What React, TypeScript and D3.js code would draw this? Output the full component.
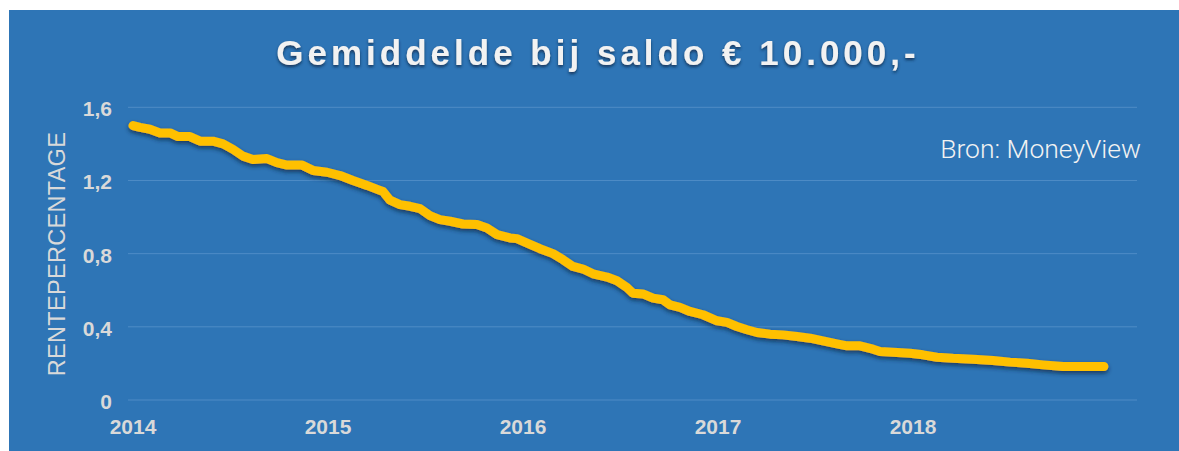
import React from "react";
import * as d3 from "d3";

const title = "Gemiddelde bij saldo € 10.000,-";
const yAxisTitle = "RENTEPERCENTAGE";
const sourceNote = "Bron: MoneyView";

const yTicks = [0, 0.4, 0.8, 1.2, 1.6];
const yTickLabels = ["0", "0,4", "0,8", "1,2", "1,6"];
const xTicks = [2014, 2015, 2016, 2017, 2018];
const xTickLabels = ["2014", "2015", "2016", "2017", "2018"];

// decimal year of each observation
const times = [
  2014.0, 2014.036, 2014.087, 2014.138, 2014.19, 2014.231, 2014.292, 2014.344, 2014.41, 2014.462,
  2014.513, 2014.564, 2014.615, 2014.687, 2014.738, 2014.79, 2014.867, 2014.923, 2014.995,
  2015.062, 2015.128, 2015.2, 2015.256, 2015.282, 2015.318, 2015.369, 2015.421, 2015.472, 2015.523,
  2015.574, 2015.626, 2015.692, 2015.764, 2015.815, 2015.867, 2015.933, 2015.969,
  2016.021, 2016.087, 2016.154, 2016.205, 2016.256, 2016.308, 2016.359, 2016.431, 2016.482, 2016.533,
  2016.564, 2016.615, 2016.667, 2016.718, 2016.754, 2016.805, 2016.856, 2016.923, 2016.995,
  2017.046, 2017.097, 2017.149, 2017.2, 2017.267, 2017.333, 2017.405, 2017.472, 2017.538, 2017.61,
  2017.662, 2017.728, 2017.795, 2017.831, 2017.897, 2017.985,
  2018.051, 2018.123, 2018.205, 2018.308, 2018.41, 2018.497, 2018.585, 2018.667, 2018.769, 2018.872, 2018.979,
];

// average interest rate (%)
const rates = [
  1.5, 1.49, 1.48, 1.46, 1.46, 1.44, 1.44, 1.415, 1.415, 1.4,
  1.37, 1.333, 1.315, 1.32, 1.297, 1.284, 1.284, 1.255, 1.245,
  1.227, 1.2, 1.173, 1.15, 1.14, 1.092, 1.068, 1.059, 1.046, 1.008,
  0.986, 0.977, 0.962, 0.959, 0.94, 0.904, 0.886, 0.882,
  0.858, 0.827, 0.8, 0.767, 0.73, 0.716, 0.69, 0.672, 0.652, 0.615,
  0.584, 0.58, 0.557, 0.548, 0.52, 0.506, 0.484, 0.466, 0.433,
  0.424, 0.402, 0.384, 0.369, 0.36, 0.356, 0.347, 0.338, 0.323, 0.307,
  0.296, 0.296, 0.278, 0.265, 0.261, 0.256,
  0.247, 0.234, 0.228, 0.223, 0.216, 0.207, 0.201, 0.192, 0.183, 0.183, 0.183,
];

const W = 1179;
const H = 451;

export default function App() {
  const x = d3.scaleLinear().domain([2014, 2019]).range([133, 1108]);
  const y = d3.scaleLinear().domain([0, 1.6]).range([400, 107.3]);
  const points: [number, number][] = times.map((t, i) => [t, rates[i]]);
  const line = d3
    .line<[number, number]>()
    .x((d) => x(d[0]))
    .y((d) => y(d[1]))
    .curve(d3.curveLinear);
  const gridX0 = 128;
  const gridX1 = 1137;
  const tickFont = "'Liberation Sans', Arial, sans-serif";

  return (
    <svg
      width={W}
      height={H}
      style={{ position: "absolute", left: 0, top: 0 }}
      xmlns="http://www.w3.org/2000/svg"
    >
      <defs>
        <filter id="lineShadow" x="-5%" y="-20%" width="110%" height="140%">
          <feDropShadow dx="0" dy="2.5" stdDeviation="2" floodColor="#0b2545" floodOpacity="0.75" />
        </filter>
        <filter id="textShadow" x="-5%" y="-30%" width="110%" height="160%">
          <feDropShadow dx="0" dy="2" stdDeviation="1.5" floodColor="#0b2545" floodOpacity="0.8" />
        </filter>
      </defs>
      <rect x={0} y={0} width={W} height={H} fill="#ffffff" />
      <rect x={9} y={10} width={W - 9} height={H - 10} fill="#2E75B6" />

      {yTicks.map((v) => (
        <line
          key={"g" + v}
          x1={gridX0}
          x2={gridX1}
          y1={y(v)}
          y2={y(v)}
          stroke="#4F8CC6"
          strokeWidth={1}
        />
      ))}

      {yTicks.map((v, i) => (
        <text
          key={"yl" + v}
          x={112}
          y={y(v) + 1.5}
          textAnchor="end"
          dominantBaseline="central"
          fontFamily={tickFont}
          fontWeight="bold"
          fontSize={21}
          fill="#D9D9D9"
        >
          {yTickLabels[i]}
        </text>
      ))}

      {xTicks.map((v, i) => (
        <text
          key={"xl" + v}
          x={x(v)}
          y={434}
          textAnchor="middle"
          fontFamily={tickFont}
          fontWeight="bold"
          fontSize={21}
          fill="#D9D9D9"
        >
          {xTickLabels[i]}
        </text>
      ))}

      <text
        transform={`translate(65, 254) rotate(-90)`}
        textAnchor="middle"
        fontFamily={tickFont}
        fontSize={23.5}
        letterSpacing={0.3}
        fill="#D9D9D9"
      >
        {yAxisTitle}
      </text>

      <text
        x={598}
        y={65}
        textAnchor="middle"
        fontFamily={tickFont}
        fontWeight="bold"
        fontSize={35}
        letterSpacing={4}
        fill="#F2F2F2"
        filter="url(#textShadow)"
      >
        {title}
      </text>

      <text
        x={1141}
        y={158}
        textAnchor="end"
        fontFamily="Roboto, 'Liberation Sans', sans-serif"
        fontWeight={300}
        fontSize={26.5}
        fill="#F2F2F2"
      >
        {sourceNote}
      </text>

      <path
        d={line(points) || ""}
        fill="none"
        stroke="#FFC000"
        strokeWidth={9}
        strokeLinecap="round"
        strokeLinejoin="round"
        filter="url(#lineShadow)"
      />
    </svg>
  );
}
